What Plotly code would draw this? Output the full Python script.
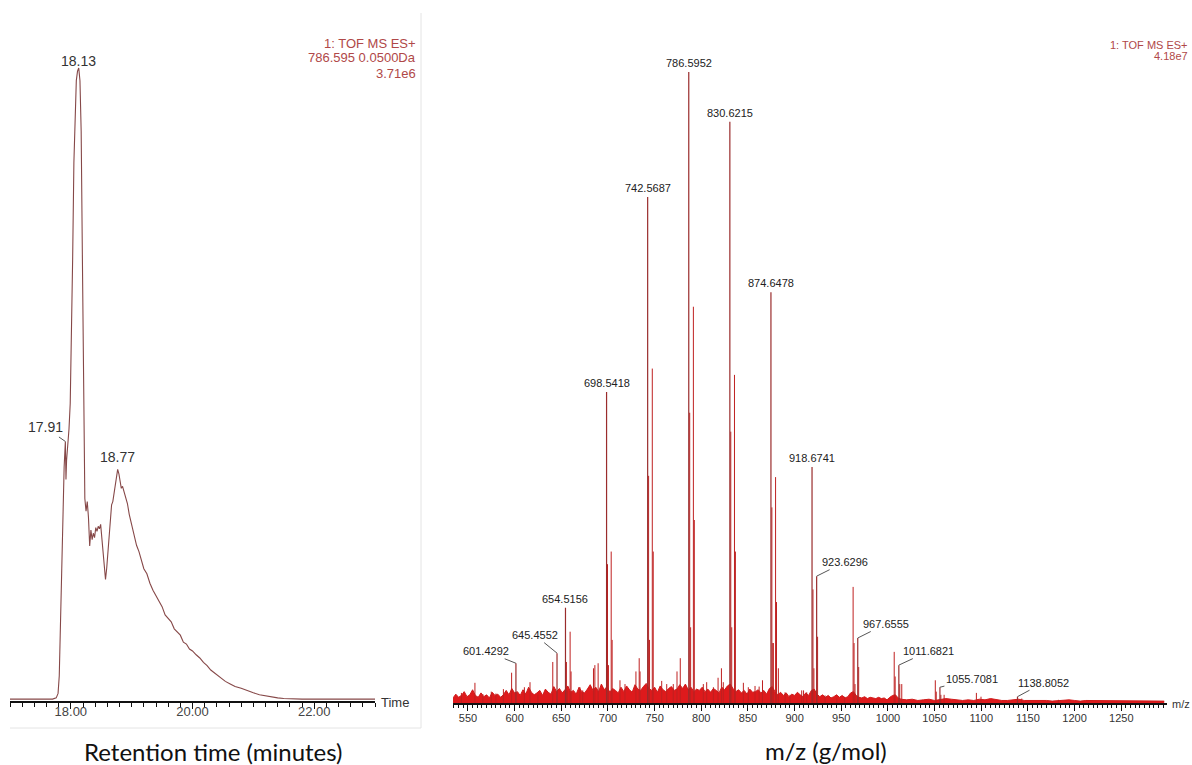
import numpy as np
import plotly.graph_objects as go

W, H = 1192, 765

# ---------------- chromatogram (EIC 786.595 +/- 0.05 Da) ----------------
chrom_time = [17.00, 17.20, 17.40, 17.60, 17.70, 17.76, 17.79, 17.81, 17.83, 17.85,
              17.87, 17.89, 17.91, 17.92, 17.93, 17.95, 17.97, 17.99, 18.01, 18.03,
              18.05, 18.07, 18.09, 18.11, 18.13, 18.15, 18.17, 18.19, 18.21, 18.23,
              18.25, 18.27, 18.29, 18.31, 18.33, 18.35, 18.37, 18.39, 18.41, 18.43,
              18.45, 18.47, 18.49, 18.51, 18.53, 18.55, 18.57, 18.59, 18.61, 18.63,
              18.65, 18.67, 18.69, 18.71, 18.73, 18.75, 18.77, 18.79, 18.81, 18.83,
              18.85, 18.87, 18.90, 18.93, 18.96, 19.00, 19.04, 19.08, 19.12, 19.16,
              19.20, 19.25, 19.30, 19.35, 19.40, 19.45, 19.50, 19.55, 19.60, 19.65,
              19.70, 19.75, 19.80, 19.85, 19.90, 19.95, 20.00, 20.06, 20.12, 20.18,
              20.24, 20.30, 20.38, 20.46, 20.54, 20.62, 20.70, 20.80, 20.90, 21.00,
              21.10, 21.20, 21.30, 21.40, 21.50, 21.60, 21.80, 22.00, 22.30, 22.60,
              23.00]
chrom_int = [0.3, 0.3, 0.2, 0.3, 0.3, 0.5, 1.2, 4.0, 12.0, 24.0,
             31.0, 37.0, 41.0, 35.0, 38.0, 40.0, 43.0, 47.0, 56.0, 70.0,
             85.0, 94.0, 98.0, 99.5, 100.0, 98.0, 90.0, 70.0, 46.0, 32.0,
             30.0, 31.5, 29.0, 24.5, 27.0, 25.5, 26.5, 25.8, 27.4, 26.8,
             27.6, 27.2, 27.9, 25.5, 23.0, 20.5, 19.2, 21.0, 23.5, 26.0,
             29.0, 31.0, 31.5, 33.0, 34.5, 35.8, 36.6, 35.9, 34.5, 33.6,
             33.9, 33.1, 32.0, 31.2, 29.5, 27.8, 26.0, 24.6, 23.6, 22.0,
             20.9, 20.1, 18.6, 17.5, 16.6, 15.7, 14.9, 13.6, 13.0, 12.5,
             11.4, 10.9, 10.4, 9.3, 9.0, 8.2, 7.9, 7.3, 6.8, 6.1,
             5.6, 4.9, 4.3, 3.7, 3.1, 2.7, 2.3, 2.0, 1.6, 1.3,
             1.0, 0.8, 0.6, 0.5, 0.4, 0.35, 0.3, 0.3, 0.3, 0.3,
             0.3]
chrom_ticks = [18.00, 20.00, 22.00]

# ---------------- mass spectrum (relative intensity, %) ----------------
labelled_mz = [601.4292, 645.4552, 654.5156, 698.5418, 742.5687, 786.5952, 830.6215,
               874.6478, 918.6741, 923.6296, 967.6555, 1011.6821, 1055.7081, 1138.8052]
labelled_int = [6.3, 7.9, 15.1, 49.3, 80.2, 100.0, 92.1,
                65.1, 37.4, 20.1, 10.3, 6.0, 2.5, 1.0]

other_mz = [610.49, 655.52, 656.52, 699.545, 700.55, 743.572, 744.575, 787.598, 788.60,
            831.625, 832.628, 875.651, 876.654, 919.677, 920.68, 962.70, 963.70, 964.71,
            1006.73, 1007.73, 1050.75, 1051.76, 1094.78,
            659.48, 660.48, 703.50, 704.50, 747.53, 748.53, 791.56, 792.56, 835.58, 836.59,
            879.61, 880.61, 924.63, 968.66, 1012.69, 1056.71, 1099.73,
            557.5, 689.5, 733.5, 777.5, 821.6, 865.6, 909.6, 953.6,
            596.8, 640.9, 684.5, 686.0, 730.0, 774.0, 818.0, 862.0,
            616.5, 670.0, 673.0, 712.9, 718.3, 734.4, 757.6, 763.0, 770.0, 802.2,
            805.8, 813.0, 823.6, 845.1, 850.4, 857.6, 877.2, 882.6, 889.8, 895.1,
            907.6, 913.0, 932.6, 945.2, 1014.8, 1060.2, 1143.4, 1182.7,
            543.0, 566.0, 575.0, 580.0, 588.0, 625.0]
other_int = [2.5, 6.5, 2.0, 22.0, 6.0, 36.0, 10.0, 46.0, 12.0,
             43.0, 12.0, 31.0, 9.5, 18.0, 5.5, 18.4, 9.5, 3.0,
             8.1, 4.2, 3.6, 1.8, 1.6,
             11.3, 5.0, 24.0, 10.0, 53.0, 24.0, 62.8, 29.0, 52.0, 24.0,
             35.8, 16.0, 10.5, 5.7, 3.0, 1.3, 1.0,
             3.2, 6.3, 7.1, 7.1, 5.5, 3.6, 2.0, 1.0,
             4.8, 6.5, 5.5, 6.0, 5.0, 5.0, 4.0, 2.6,
             3.3, 2.5, 2.0, 3.6, 3.0, 5.0, 3.5, 3.0, 3.0, 3.0,
             3.3, 2.5, 3.3, 3.2, 2.5, 2.7, 9.5, 5.5, 1.7, 1.3,
             2.0, 1.7, 1.2, 0.8, 3.0, 1.3, 0.7, 0.5,
             1.6, 1.4, 1.8, 1.5, 2.2, 1.3]

# chemical noise floor, sampled every 3 u (534-1011) then every 6 u (1014-1296)
noise_dense = [0.8, 1.4, 0.9, 1.2, 1.8, 1.0, 1.3, 2.1, 1.2, 0.9,
               1.6, 1.0, 1.3, 0.8, 1.7, 1.2, 1.4, 0.9, 1.3, 2.0,
               1.3, 2.3, 1.6, 1.8, 1.2, 2.1, 1.4, 2.5, 1.7, 1.3,
               1.6, 2.0, 1.2, 2.2, 1.7, 1.4, 2.6, 1.8, 2.3, 1.6,
               2.1, 2.7, 1.7, 2.0, 1.4, 2.5, 1.8, 1.6, 2.2, 2.9,
               2.0, 2.5, 1.8, 3.0, 2.1, 2.6, 1.7, 2.3, 2.0, 1.6,
               2.5, 1.8, 2.7, 2.1, 1.7, 2.9, 2.2, 2.0, 2.6, 3.1,
               2.3, 2.0, 2.5, 1.7, 2.7, 2.1, 1.8, 2.3, 2.6, 2.0,
               2.2, 2.9, 2.3, 3.0, 2.1, 2.5, 1.8, 2.2, 2.0, 2.5,
               1.8, 2.2, 1.7, 2.3, 2.0, 1.6, 2.5, 2.1, 2.7, 3.0,
               2.3, 1.8, 2.1, 1.6, 2.0, 1.4, 2.2, 1.7, 1.8, 2.1,
               1.6, 2.0, 1.4, 2.3, 2.6, 1.8, 1.3, 1.7, 1.2, 1.6,
               1.0, 1.4, 1.2, 1.7, 1.3, 1.0, 1.6, 1.2, 2.0, 2.2,
               1.4, 1.0, 1.3, 0.9, 1.2, 0.8, 1.0, 1.3, 0.9, 1.2,
               0.8, 1.0, 1.6, 1.8, 1.2, 0.9, 0.8, 1.0, 0.7, 0.9,
               0.8, 0.7, 0.9, 0.7, 0.8, 0.5, 0.9, 1.2, 1.3, 0.8]
noise_sparse = [0.6, 0.5, 0.6, 0.4, 0.5, 0.6, 0.4, 0.5, 0.7, 0.6,
                0.5, 0.4, 0.5, 0.4, 0.6, 0.5, 0.7, 0.5, 0.4, 0.4,
                0.5, 0.6, 0.4, 0.4, 0.5, 0.4, 0.4, 0.3, 0.4, 0.4,
                0.5, 0.4, 0.3, 0.4, 0.4, 0.3, 0.4, 0.3, 0.4, 0.3,
                0.4, 0.3, 0.3, 0.4, 0.3, 0.3, 0.3, 0.3]
noise_mz = list(534 + 3 * np.arange(len(noise_dense))) + \
           list(1014 + 6 * np.arange(len(noise_sparse)))
noise_int = noise_dense + noise_sparse

ms_ticks = [550, 600, 650, 700, 750, 800, 850, 900, 950, 1000, 1050, 1100, 1150, 1200, 1250]


# ---------------- helpers ----------------
def px(x):
    return x / W


def py(y):
    return 1 - y / H


def sticks(mz, inten):
    xs, ys = [], []
    for m, v in zip(mz, inten):
        xs += [m, m, None]
        ys += [0, v, None]
    return xs, ys


# plot areas (pixels)
L_X0, L_X1, L_BASE, L_TOP, L_FULL = 10, 375, 701, 40, 68
R_X0, R_X1, R_BASE, R_TOP, R_FULL = 453, 1167, 703, 40, 72
L_RANGE_TOP = 100 * (L_BASE - L_TOP) / (L_BASE - L_FULL)
R_RANGE_TOP = 100 * (R_BASE - R_TOP) / (R_BASE - R_FULL)

fig = go.Figure()

# chromatogram trace
fig.add_trace(go.Scatter(x=chrom_time, y=chrom_int, mode="lines",
                         line=dict(color="#864848", width=1.1),
                         xaxis="x", yaxis="y", hoverinfo="skip"))

# spectrum: noise floor then sticks
fig.add_trace(go.Scatter(x=noise_mz, y=noise_int, mode="lines", fill="tozeroy",
                         fillcolor="#de1a1c", line=dict(color="#cf1b1b", width=1),
                         xaxis="x2", yaxis="y2", hoverinfo="skip"))
sx, sy = sticks(other_mz, other_int)
fig.add_trace(go.Scatter(x=sx, y=sy, mode="lines", line=dict(color="#bf2020", width=1),
                         xaxis="x2", yaxis="y2", hoverinfo="skip"))
lx, ly = sticks(labelled_mz, labelled_int)
fig.add_trace(go.Scatter(x=lx, y=ly, mode="lines", line=dict(color="#9a2c2c", width=1.2),
                         xaxis="x2", yaxis="y2", hoverinfo="skip"))

tickfont_l = dict(family="Liberation Sans, Arial, sans-serif", size=13, color="#444444")
tickfont_r = dict(family="Liberation Sans, Arial, sans-serif", size=11, color="#333333")

fig.update_layout(
    width=W, height=H, margin=dict(l=0, r=0, t=0, b=0),
    paper_bgcolor="white", plot_bgcolor="white", showlegend=False,
    xaxis=dict(domain=[px(L_X0), px(L_X1)], range=[17.0, 23.0], anchor="y",
               showgrid=False, zeroline=False, showline=True, linecolor="#111111", linewidth=2,
               tickmode="array", tickvals=chrom_ticks, ticktext=[f"{t:.2f}" for t in chrom_ticks],
               ticks="outside", ticklen=6, tickcolor="#111111", tickwidth=1,
               minor=dict(dtick=0.2, tick0=17.0, ticks="outside", ticklen=4, tickcolor="#111111"),
               ticklabelstandoff=-9,
               tickfont=tickfont_l, fixedrange=True),
    yaxis=dict(domain=[py(L_BASE), py(L_TOP)], range=[0, L_RANGE_TOP], anchor="x",
               visible=False, fixedrange=True),
    xaxis2=dict(domain=[px(R_X0), px(R_X1)], range=[534, 1299], anchor="y2",
                showgrid=False, zeroline=False, showline=True, linecolor="#111111", linewidth=2,
                tickmode="array", tickvals=ms_ticks,
                ticks="outside", ticklen=6, tickcolor="#111111", tickwidth=1,
                minor=dict(dtick=5, tick0=550, ticks="outside", ticklen=3, tickcolor="#111111"),
                ticklabelstandoff=-2,
                tickfont=tickfont_r, fixedrange=True),
    yaxis2=dict(domain=[py(R_BASE), py(R_TOP)], range=[0, R_RANGE_TOP], anchor="x2",
                visible=False, fixedrange=True),
)

ann = []
base_family = "Liberation Sans, Arial, sans-serif"
lab_font_l = dict(family=base_family, size=14, color="#333333")
lab_font_r = dict(family=base_family, size=11, color="#222222")
hdr_font_l = dict(family=base_family, size=13, color="#b04848")
hdr_font_r = dict(family=base_family, size=11, color="#b04848")

# chromatogram peak labels
chrom_lookup = dict(zip(chrom_time, chrom_int))
ann.append(dict(x=18.13, y=chrom_lookup[18.13], xref="x", yref="y", text="18.13",
                showarrow=False, yanchor="bottom", yshift=-3, font=lab_font_l))
ann.append(dict(x=17.91, y=chrom_lookup[17.91], xref="x", yref="y", text="17.91",
                showarrow=True, arrowhead=0, arrowwidth=1, arrowcolor="#555555",
                ax=-20, ay=-14, font=lab_font_l))
ann.append(dict(x=18.77, y=chrom_lookup[18.77], xref="x", yref="y", text="18.77",
                showarrow=False, yanchor="bottom", yshift=2, font=lab_font_l))

# chromatogram header, one line per annotation
for text, yc in [("1: TOF MS ES+", 43), ("786.595 0.0500Da", 58), ("3.71e6", 73)]:
    ann.append(dict(x=px(418), y=py(yc), xref="paper", yref="paper", xanchor="right",
                    yanchor="middle", showarrow=False, font=hdr_font_l, text=text))
ann.append(dict(x=px(379), y=py(702), xref="paper", yref="paper", xanchor="left", yanchor="middle",
                showarrow=False, text="Time", font=dict(family=base_family, size=13, color="#333333")))

# spectrum peak labels: (offset x px, offset y px) for leader lines, None = directly above
label_offsets = {601.4292: (-30, -12), 645.4552: (-22, -18), 654.5156: None, 698.5418: None,
                 742.5687: None, 786.5952: None, 830.6215: None, 874.6478: None,
                 918.6741: None, 923.6296: (28, -14), 967.6555: (28, -14),
                 1011.6821: (30, -14), 1055.7081: (32, -8), 1138.8052: (26, -14)}
for m, v in zip(labelled_mz, labelled_int):
    off = label_offsets[m]
    if off is None:
        ann.append(dict(x=m, y=v, xref="x2", yref="y2", text=f"{m:.4f}", showarrow=False,
                        yanchor="bottom", yshift=1, font=lab_font_r))
    else:
        ann.append(dict(x=m, y=v, xref="x2", yref="y2", text=f"{m:.4f}", showarrow=True,
                        arrowhead=0, arrowwidth=1, arrowcolor="#555555", ax=off[0], ay=off[1],
                        font=lab_font_r))

# spectrum header at the right edge
ann.append(dict(x=px(1190), y=py(45), xref="paper", yref="paper", xanchor="right",
                yanchor="middle", showarrow=False, font=hdr_font_r, text="1: TOF MS ES+"))
ann.append(dict(x=px(1190), y=py(56), xref="paper", yref="paper", xanchor="right",
                yanchor="middle", showarrow=False, font=hdr_font_r, text="4.18e7"))
ann.append(dict(x=px(1170), y=py(704), xref="paper", yref="paper", xanchor="left", yanchor="middle",
                showarrow=False, text="m/z", font=dict(family=base_family, size=11, color="#333333")))

# axis titles
title_font = dict(family="Lato, Open Sans, sans-serif", size=24, color="#111111")
ann.append(dict(x=px(213), y=py(751), xref="paper", yref="paper", xanchor="center",
                yanchor="middle", showarrow=False, text="Retention time (minutes)", font=title_font))
ann.append(dict(x=px(826), y=py(750), xref="paper", yref="paper", xanchor="center",
                yanchor="middle", showarrow=False, text="m/z (g/mol)", font=title_font))

fig.update_layout(annotations=ann)

# faint panel frame of the chromatogram window
fig.add_shape(type="line", xref="paper", yref="paper", x0=px(421), x1=px(421),
              y0=py(13), y1=py(728), line=dict(color="#e4e4e4", width=1))
fig.add_shape(type="line", xref="paper", yref="paper", x0=px(10), x1=px(421),
              y0=py(728), y1=py(728), line=dict(color="#e4e4e4", width=1))

fig.write_html("out.html")
